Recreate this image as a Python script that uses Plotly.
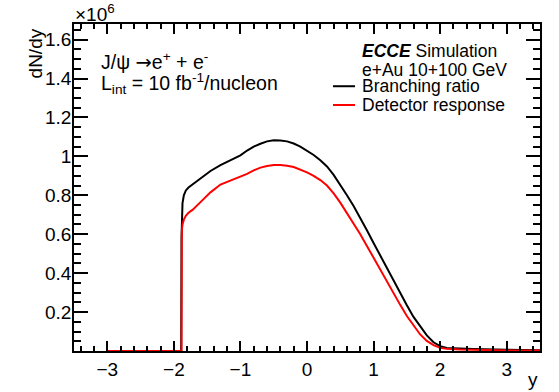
import plotly.graph_objects as go

# Rapidity distribution of J/psi -> e+ e- (dN/dy in units of 1e6)
y_branching = [-3.0, -1.89, -1.885, -1.88, -1.87, -1.85, -1.82, -1.78, -1.72, -1.6, -1.45,
               -1.3, -1.15, -1.0, -0.9, -0.8, -0.7, -0.6, -0.5, -0.4, -0.3, -0.2, -0.1,
               0.0, 0.1, 0.2, 0.3, 0.4, 0.5, 0.6, 0.7, 0.8, 0.9, 1.0, 1.1, 1.2, 1.3,
               1.4, 1.5, 1.6, 1.7, 1.8, 1.9, 2.0, 2.1, 2.3, 2.5, 3.0, 3.5]
dndy_branching = [0.0, 0.0, 0.58, 0.70, 0.76, 0.80, 0.825, 0.84, 0.855, 0.885, 0.925,
                  0.955, 0.98, 1.005, 1.03, 1.05, 1.065, 1.077, 1.083, 1.082, 1.077, 1.066, 1.05,
                  1.03, 1.007, 0.98, 0.948, 0.905, 0.855, 0.80, 0.745, 0.685, 0.62, 0.555, 0.49,
                  0.425, 0.36, 0.295, 0.235, 0.175, 0.125, 0.08, 0.045, 0.025, 0.016, 0.012,
                  0.01, 0.006, 0.004]

y_detector = [-3.0, -1.89, -1.885, -1.88, -1.87, -1.85, -1.82, -1.78, -1.72, -1.6, -1.45,
              -1.3, -1.15, -1.0, -0.9, -0.8, -0.7, -0.6, -0.5, -0.4, -0.3, -0.2, -0.1,
              0.0, 0.1, 0.2, 0.3, 0.4, 0.5, 0.6, 0.7, 0.8, 0.9, 1.0, 1.1, 1.2, 1.3,
              1.4, 1.5, 1.6, 1.7, 1.8, 1.9, 2.0, 2.1, 2.3, 2.5, 3.0, 3.5]
dndy_detector = [0.0, 0.0, 0.0, 0.62, 0.65, 0.675, 0.695, 0.71, 0.725, 0.765, 0.815,
                 0.855, 0.875, 0.893, 0.91, 0.928, 0.942, 0.95, 0.955, 0.955, 0.952, 0.945, 0.933,
                 0.918, 0.90, 0.878, 0.85, 0.81, 0.762, 0.71, 0.655, 0.60, 0.54, 0.478, 0.415,
                 0.355, 0.295, 0.237, 0.18, 0.13, 0.085, 0.052, 0.03, 0.017, 0.011, 0.008,
                 0.006, 0.003, 0.002]

series_names = ["Branching ratio", "Detector response"]
series_colors = ["#000000", "#ff0000"]

x_tickvals = [-3, -2, -1, 0, 1, 2, 3]
x_ticktext = ["\u22123", "\u22122", "\u22121", "0", "1", "2", "3"]
y_tickvals = [0.2, 0.4, 0.6, 0.8, 1.0, 1.2, 1.4, 1.6]
y_ticktext = ["0.2", "0.4", "0.6", "0.8", "1", "1.2", "1.4", "1.6"]

FONT = "Liberation Sans, Arial, sans-serif"

fig = go.Figure()
for xs, ys, name, color in [(y_branching, dndy_branching, series_names[0], series_colors[0]),
                            (y_detector, dndy_detector, series_names[1], series_colors[1])]:
    fig.add_trace(go.Scatter(x=xs, y=ys, mode="lines", name=name,
                             line=dict(color=color, width=2), showlegend=False))

fig.update_layout(
    width=559, height=392,
    margin=dict(l=74, r=19, t=24, b=37),
    paper_bgcolor="white", plot_bgcolor="white",
    font=dict(family=FONT, size=19, color="black"),
    showlegend=False,
)

fig.update_xaxes(
    range=[-3.5, 3.5], tickvals=x_tickvals, ticktext=x_ticktext,
    showgrid=False, zeroline=False,
    showline=True, linecolor="black", linewidth=1.5, mirror="allticks",
    ticks="inside", ticklen=10, tickwidth=1.5, tickcolor="black",
    tickfont=dict(family=FONT, size=19, color="black"),
    minor=dict(ticks="inside", ticklen=5, tickwidth=1.5, tickcolor="black",
               dtick=0.2, tick0=0, showgrid=False),
)
fig.update_yaxes(
    range=[0, 1.68], tickvals=y_tickvals, ticktext=y_ticktext,
    showgrid=False, zeroline=False,
    showline=True, linecolor="black", linewidth=1.5, mirror="allticks",
    ticks="inside", ticklen=14, tickwidth=1.5, tickcolor="black",
    ticklabelstandoff=-3,
    tickfont=dict(family=FONT, size=19, color="black"),
    minor=dict(ticks="inside", ticklen=7, tickwidth=1.5, tickcolor="black",
               dtick=0.05, tick0=0, showgrid=False),
)

# Axis titles and the exponent label
fig.add_annotation(text="dN/dy", textangle=-90, xref="paper", yref="paper",
                   x=-0.083, y=0.911, xanchor="center", yanchor="middle",
                   showarrow=False, font=dict(family=FONT, size=19))
fig.add_annotation(text="\u00d710<sup>6</sup>", xref="paper", yref="paper",
                   x=-0.002, y=1.0, xanchor="left", yanchor="bottom", yshift=-3,
                   showarrow=False, font=dict(family=FONT, size=19))
fig.add_annotation(text="y", xref="paper", yref="paper",
                   x=1.0, y=-0.05, xanchor="right", yanchor="top",
                   showarrow=False, font=dict(family=FONT, size=19))

# Process and luminosity labels
fig.add_annotation(text="J/\u03c8 <span style=\"font-family:DejaVu Sans\">\u2192</span>e<sup>+</sup> + e<sup>-</sup>",
                   xref="paper", yref="paper",
                   x=0.054, y=0.885, xanchor="left", yanchor="middle",
                   showarrow=False, font=dict(family=FONT, size=19.5))
fig.add_annotation(text="L<sub>int</sub> = 10 fb<sup>-1</sup>/nucleon", xref="paper", yref="paper",
                   x=0.054, y=0.818, xanchor="left", yanchor="middle",
                   showarrow=False, font=dict(family=FONT, size=19.5))

# Legend block: header lines, then a line sample and label per series
fig.add_annotation(text="<b><i>ECCE</i></b> Simulation", xref="paper", yref="paper",
                   x=0.614, y=0.917, xanchor="left", yanchor="middle",
                   showarrow=False, font=dict(family=FONT, size=17.5))
fig.add_annotation(text="e+Au 10+100 GeV", xref="paper", yref="paper",
                   x=0.614, y=0.858, xanchor="left", yanchor="middle",
                   showarrow=False, font=dict(family=FONT, size=17.5))
for name, color, ypos in zip(series_names, series_colors, [0.8097, 0.7523]):
    fig.add_shape(type="line", xref="paper", yref="paper",
                  x0=0.5558, x1=0.603, y0=ypos, y1=ypos,
                  line=dict(color=color, width=2))
    fig.add_annotation(text=name, xref="paper", yref="paper",
                       x=0.614, y=ypos, xanchor="left", yanchor="middle",
                       showarrow=False, font=dict(family=FONT, size=17.5))

fig.write_html("out.html")
